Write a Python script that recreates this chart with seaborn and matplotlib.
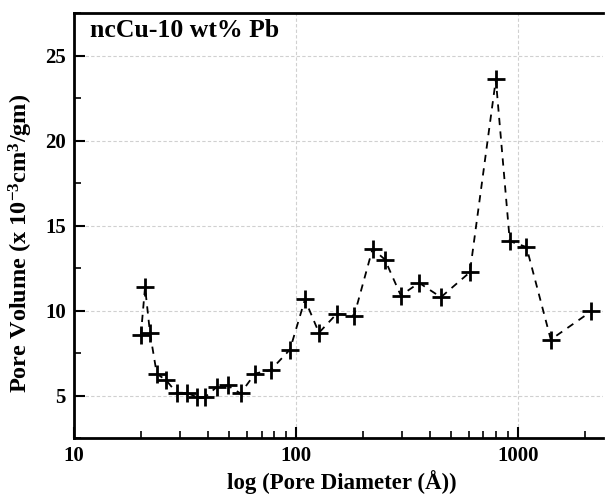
import numpy as np
import pandas as pd
import matplotlib
matplotlib.use("Agg")
import matplotlib.pyplot as plt
import seaborn as sns
from matplotlib.ticker import LogLocator, FixedLocator, NullFormatter, MultipleLocator

diameter = [20.0, 20.9, 22.0, 23.6, 26.0, 29.0, 32.4, 35.7, 38.9, 43.9, 49.2, 56.3,
            65.4, 76.9, 94.0, 109.8, 127, 152.5, 183, 221.5, 251.7, 297, 359, 450,
            608, 796, 920, 1094, 1408, 2147]
volume = [8.53, 11.37, 8.69, 6.28, 5.90, 5.16, 5.16, 4.90, 4.90, 5.49, 5.59, 5.12,
          6.29, 6.49, 7.70, 10.65, 8.69, 9.80, 9.70, 13.63, 13.00, 10.88, 11.63, 10.78,
          12.25, 23.59, 14.08, 13.73, 8.29, 9.96]

title_text = "ncCu-10 wt% Pb"
xlabel = "log (Pore Diameter (Å))"
ylabel = r"Pore Volume (x 10$^{\mathbf{-3}}$cm$^{\mathbf{3}}$/gm)"

df = pd.DataFrame({"d": diameter, "v": volume})

sns.set_style("ticks")
plt.rcParams["font.family"] = ["Liberation Serif", "DejaVu Serif"]
plt.rcParams["font.weight"] = "bold"
plt.rcParams["mathtext.fontset"] = "custom"
plt.rcParams["mathtext.rm"] = "Liberation Serif:bold"
plt.rcParams["mathtext.bf"] = "Liberation Serif:bold"
plt.rcParams["mathtext.default"] = "bf"
for k in ["text.color", "axes.labelcolor", "xtick.color", "ytick.color", "axes.edgecolor"]:
    plt.rcParams[k] = "black"

fig = plt.figure(figsize=(6.05, 4.98), dpi=100)
ax = fig.add_axes([74/605, 60/498, 529/605, 425/498])

sns.lineplot(data=df, x="d", y="v", ax=ax, sort=False, color="black",
             linestyle=(0, (4, 3.5)), linewidth=1.3, marker="+", markersize=13,
             markeredgewidth=2.0, markeredgecolor="black")

ax.set_xscale("log")
ax.set_xlim(10, 2420)
ax.set_ylim(2.5, 27.5)

ax.xaxis.set_major_locator(FixedLocator([10, 100, 1000]))
ax.xaxis.set_minor_locator(LogLocator(base=10, subs=np.arange(2, 10)))
ax.xaxis.set_minor_formatter(NullFormatter())
ax.set_xticklabels(["10", "100", "1000"])
ax.yaxis.set_major_locator(MultipleLocator(5))
ax.yaxis.set_minor_locator(MultipleLocator(2.5))
ax.set_yticks([5, 10, 15, 20, 25])

ax.grid(True, which="major", color="#d0d0d0", linestyle=(0, (3, 2)), linewidth=0.8)
ax.set_axisbelow(True)

ax.tick_params(which="major", direction="in", length=8, width=1.5,
               labelsize=15, top=False, right=False, pad=6, colors="black")
ax.tick_params(which="minor", direction="in", length=5, width=1.2,
               top=False, right=False)
for lab in ax.get_xticklabels() + ax.get_yticklabels():
    lab.set_fontweight("bold")

for s in ["left", "bottom", "top"]:
    ax.spines[s].set_linewidth(2.0)
    ax.spines[s].set_color("black")
ax.spines["right"].set_visible(False)

ax.set_xlabel(xlabel, fontsize=16.5, fontweight="bold")
ax.set_ylabel(ylabel, fontsize=17.5, fontweight="bold")
ax.xaxis.set_label_coords((342 - 74) / 529, (438 - 470) / 425)
ax.yaxis.set_label_coords((35 - 74) / 529, (438 - 243) / 425)

ax.text(0.03, 0.985, title_text, transform=ax.transAxes, ha="left", va="top",
        fontsize=18.5, fontweight="bold")

fig.savefig("out.png", dpi=100)
